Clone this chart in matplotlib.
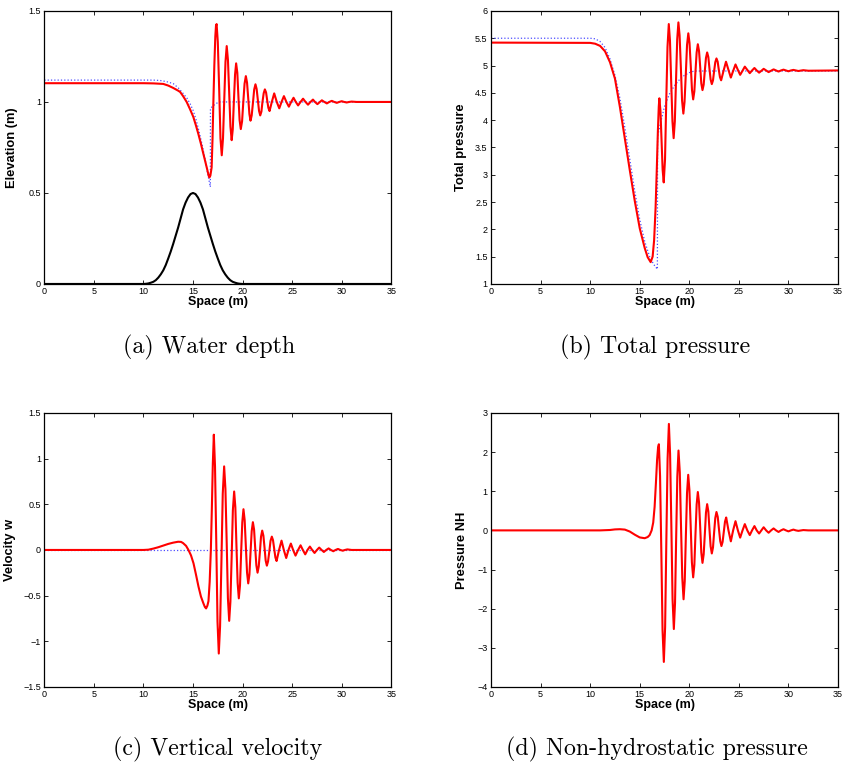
import matplotlib
matplotlib.use('Agg')
import matplotlib.pyplot as plt
from matplotlib.ticker import FuncFormatter

plt.rcParams['font.family'] = ['Liberation Sans', 'DejaVu Sans']

# (a) water depth: free surface (red), hydrostatic run (blue dots), bed bump (black)
elevation = [(0, 1.103), (5, 1.103), (10, 1.103), (11, 1.102), (12, 1.099), (12.5, 1.09),
             (13, 1.077), (13.5, 1.062), (13.7, 1.055), (14.0, 1.032), (14.36, 1.0),
             (14.7, 0.96), (15.03, 0.918), (15.3, 0.87), (15.53, 0.826), (15.8, 0.77),
             (16.04, 0.716), (16.25, 0.67), (16.45, 0.625), (16.58, 0.595), (16.65, 0.585),
             (16.75, 0.595), (16.88, 0.64), (16.97, 0.8), (17.05, 0.99), (17.15, 1.2),
             (17.25, 1.36), (17.32, 1.42), (17.38, 1.428),
             (17.5, 1.33), (17.64, 1.07), (17.77, 0.80), (17.9, 0.707),
             (18.025, 0.80), (18.15, 1.01), (18.275, 1.22), (18.4, 1.307),
             (18.525, 1.23), (18.65, 1.05), (18.775, 0.865), (18.9, 0.79),
             (19.01, 0.85), (19.12, 1.0), (19.24, 1.15), (19.35, 1.212),
             (19.47, 1.16), (19.58, 1.03), (19.70, 0.90), (19.82, 0.851),
             (19.95, 0.894), (20.07, 0.997), (20.2, 1.1), (20.33, 1.142),
             (20.45, 1.106), (20.57, 1.02), (20.69, 0.933), (20.8, 0.897),
             (20.92, 0.926), (21.05, 0.997), (21.17, 1.068), (21.3, 1.097),
             (21.42, 1.071), (21.54, 1.011), (21.66, 0.951), (21.78, 0.926),
             (21.9, 0.947), (22.0, 0.997), (22.13, 1.048), (22.25, 1.069),
             (22.37, 1.052), (22.48, 1.01), (22.6, 0.968), (22.72, 0.95),
             (22.95, 1.0), (23.19, 1.047), (23.45, 1.0), (23.7, 0.965), (23.93, 1.0),
             (24.17, 1.032), (24.42, 1.0), (24.67, 0.974), (24.9, 1.0), (25.14, 1.023),
             (25.37, 1.0), (25.6, 0.981), (25.85, 1.0), (26.1, 1.018), (26.35, 1.0),
             (26.6, 0.985), (26.85, 1.0), (27.1, 1.013), (27.3, 1.0), (27.55, 0.988),
             (27.8, 1.0), (28.0, 1.009), (28.25, 1.0), (28.5, 0.992), (28.75, 1.0),
             (29.0, 1.006), (29.25, 1.0), (29.5, 0.995), (29.75, 1.0), (30.0, 1.004),
             (30.25, 1.0), (30.5, 0.997), (30.75, 1.0), (31.0, 1.002), (31.5, 1.0), (35, 1.0)]
elevation_hyd = [(0, 1.12), (11, 1.12), (11.67, 1.118), (12.3, 1.112), (13.0, 1.101),
                 (13.5, 1.078), (14.02, 1.046), (14.4, 1.02), (14.7, 0.991), (15.0, 0.955),
                 (15.3, 0.905), (15.6, 0.84), (15.9, 0.77), (16.2, 0.69), (16.5, 0.60),
                 (16.75, 0.533), (16.76, 0.964), (17.0, 0.978), (17.3, 0.99), (17.6, 1.0),
                 (35, 1.0)]
bed = [(0, 0), (10, 0), (10.25, 0.001), (10.5, 0.003), (10.75, 0.007), (11, 0.012),
       (11.25, 0.021), (11.5, 0.035), (11.75, 0.053), (12, 0.075), (12.25, 0.104),
       (12.5, 0.14), (12.75, 0.178), (13, 0.22), (13.25, 0.265), (13.5, 0.31), (13.75, 0.36),
       (14, 0.41), (14.25, 0.447), (14.5, 0.475), (14.75, 0.494), (15, 0.5),
       (15.25, 0.494), (15.5, 0.475), (15.75, 0.447), (16, 0.41), (16.25, 0.36),
       (16.5, 0.31), (16.75, 0.265), (17, 0.22), (17.25, 0.178), (17.5, 0.14),
       (17.75, 0.104), (18, 0.075), (18.25, 0.053), (18.5, 0.035), (18.75, 0.021),
       (19, 0.012), (19.25, 0.007), (19.5, 0.003), (19.75, 0.001), (20, 0), (35, 0)]

# (b) total pressure
pressure = [(0, 5.42), (10, 5.415), (10.5, 5.40), (11, 5.36), (11.5, 5.26), (12, 5.06),
            (12.5, 4.76), (13, 4.24), (13.5, 3.66), (14, 3.08), (14.5, 2.52), (15, 2.02),
            (15.5, 1.66), (15.8, 1.49), (16.1, 1.40), (16.3, 1.50), (16.45, 1.8), (16.6, 2.4),
            (16.72, 3.1), (16.83, 3.8), (16.92, 4.25), (16.98, 4.40),
            (17.09, 4.17), (17.2, 3.63), (17.31, 3.09), (17.42, 2.86),
            (17.55, 3.28), (17.67, 4.31), (17.8, 5.34), (17.93, 5.76),
            (18.05, 5.45), (18.17, 4.715), (18.3, 3.98), (18.42, 3.67),
            (18.54, 3.98), (18.66, 4.73), (18.78, 5.48), (18.9, 5.79),
            (19.02, 5.55), (19.15, 4.955), (19.27, 4.36), (19.4, 4.12),
            (19.52, 4.335), (19.65, 4.855), (19.77, 5.375), (19.9, 5.59),
            (20.02, 5.415), (20.15, 4.985), (20.27, 4.555), (20.39, 4.38),
            (20.51, 4.53), (20.62, 4.885), (20.74, 5.24), (20.86, 5.39),
            (20.98, 5.267), (21.1, 4.97), (21.21, 4.673), (21.33, 4.55),
            (21.45, 4.651), (21.56, 4.895), (21.68, 5.139), (21.8, 5.24),
            (21.92, 5.155), (22.03, 4.95), (22.15, 4.745), (22.27, 4.66),
            (22.39, 4.729), (22.5, 4.895), (22.62, 5.061), (22.74, 5.13),
            (22.86, 5.071), (22.97, 4.93), (23.09, 4.789), (23.21, 4.73),
            (23.45, 4.9), (23.7, 5.07), (23.95, 4.92), (24.19, 4.78), (24.42, 4.9),
            (24.66, 5.02), (24.9, 4.92), (25.13, 4.83), (25.37, 4.905), (25.6, 4.98),
            (25.85, 4.92), (26.1, 4.86), (26.33, 4.91), (26.57, 4.955), (26.8, 4.91),
            (27.04, 4.87), (27.28, 4.905), (27.5, 4.94), (27.75, 4.91), (28.0, 4.88),
            (28.25, 4.905), (28.5, 4.93), (28.75, 4.91), (29.0, 4.89), (29.25, 4.91),
            (29.5, 4.925), (29.75, 4.91), (30.0, 4.895), (30.25, 4.91), (30.5, 4.92),
            (30.75, 4.91), (31.0, 4.90), (31.5, 4.915), (32.0, 4.905), (35, 4.91)]
pressure_hyd = [(0, 5.5), (10, 5.5), (10.5, 5.49), (11, 5.44), (11.5, 5.33), (12, 5.12),
                (12.5, 4.82), (13, 4.40), (13.5, 3.86), (14, 3.28), (14.5, 2.70), (15, 2.18),
                (15.5, 1.78), (16, 1.50), (16.4, 1.36), (16.78, 1.27), (16.8, 3.7),
                (17.1, 3.95), (17.5, 4.25), (18.0, 4.48), (18.5, 4.63), (19.0, 4.74),
                (19.5, 4.82), (20.0, 4.87), (20.5, 4.9), (35, 4.9)]

# (c) vertical velocity
velocity = [(0, 0), (10, 0), (10.5, 0.003), (11, 0.015), (11.5, 0.03), (12, 0.048),
            (12.5, 0.066), (13, 0.08), (13.5, 0.09), (13.8, 0.088), (14.0, 0.075),
            (14.3, 0.045), (14.54, 0.0), (14.8, -0.06), (15.05, -0.146), (15.3, -0.27),
            (15.55, -0.40), (15.8, -0.51), (16.05, -0.585), (16.2, -0.625), (16.32, -0.64),
            (16.45, -0.61), (16.56, -0.56), (16.68, -0.35), (16.8, 0.0), (16.9, 0.45),
            (17.0, 0.95), (17.1, 1.262),
            (17.22, 0.911), (17.35, 0.064), (17.47, -0.783), (17.6, -1.134),
            (17.73, -0.835), (17.87, -0.11), (18.0, 0.615), (18.14, 0.915),
            (18.27, 0.667), (18.4, 0.07), (18.52, -0.527), (18.65, -0.776),
            (18.77, -0.569), (18.9, -0.068), (19.02, 0.433), (19.15, 0.64),
            (19.27, 0.469), (19.38, 0.055), (19.5, -0.359), (19.62, -0.53),
            (19.74, -0.387), (19.85, -0.042), (19.97, 0.303), (20.09, 0.446),
            (20.21, 0.327), (20.33, 0.04), (20.45, -0.247), (20.57, -0.366),
            (20.69, -0.268), (20.8, -0.031), (20.92, 0.206), (21.04, 0.304),
            (21.16, 0.223), (21.27, 0.0275), (21.39, -0.168), (21.51, -0.249),
            (21.63, -0.181), (21.75, -0.018), (21.86, 0.145), (21.98, 0.212),
            (22.1, 0.156), (22.22, 0.02), (22.33, -0.116), (22.45, -0.172),
            (22.57, -0.125), (22.7, -0.013), (22.82, 0.1), (22.95, 0.146),
            (23.07, 0.107), (23.19, 0.0125), (23.31, -0.082), (23.43, -0.121),
            (23.68, 0), (23.93, 0.102), (24.16, 0), (24.4, -0.088), (24.63, 0), (24.87, 0.07),
            (25.1, 0), (25.34, -0.062), (25.6, 0), (25.85, 0.051), (26.08, 0), (26.32, -0.048),
            (26.55, 0), (26.79, 0.037), (27.02, 0), (27.26, -0.033), (27.5, 0), (27.73, 0.026),
            (27.97, 0), (28.2, -0.022), (28.44, 0), (28.68, 0.017), (28.91, 0), (29.15, -0.014),
            (29.38, 0), (29.62, 0.011), (29.86, 0), (30.1, -0.008), (30.33, 0), (30.57, 0.006),
            (31.0, 0), (35, 0)]
velocity_hyd = [(0, 0), (35, 0)]

# (d) non-hydrostatic pressure
pressure_nh = [(0, 0), (11, 0), (12, 0.01), (12.5, 0.025), (13, 0.03), (13.5, 0.02),
               (14, -0.03), (14.5, -0.11), (15, -0.18), (15.5, -0.2), (15.8, -0.17),
               (16.0, -0.12), (16.2, 0.0), (16.36, 0.2), (16.5, 0.6), (16.63, 1.2),
               (16.75, 1.8), (16.85, 2.12), (16.93, 2.2),
               (17.05, 1.386), (17.18, -0.58), (17.3, -2.546), (17.43, -3.36),
               (17.56, -2.47), (17.68, -0.32), (17.81, 1.83), (17.94, 2.72),
               (18.06, 1.953), (18.19, 0.1), (18.31, -1.753), (18.44, -2.52),
               (18.56, -1.852), (18.67, -0.24), (18.79, 1.372), (18.91, 2.04),
               (19.04, 1.483), (19.16, 0.14), (19.29, -1.203), (19.42, -1.76),
               (19.54, -1.294), (19.65, -0.17), (19.77, 0.954), (19.89, 1.42),
               (20.01, 1.036), (20.14, 0.11), (20.26, -0.816), (20.39, -1.2),
               (20.51, -0.881), (20.62, -0.11), (20.74, 0.661), (20.86, 0.98),
               (20.98, 0.715), (21.1, 0.075), (21.21, -0.565), (21.33, -0.83),
               (21.45, -0.61), (21.57, -0.08), (21.68, 0.45), (21.8, 0.67),
               (21.92, 0.485), (22.03, 0.04), (22.15, -0.405), (22.27, -0.59),
               (22.39, -0.435), (22.5, -0.06), (22.62, 0.315), (22.74, 0.47),
               (22.87, 0.343), (22.99, 0.035), (23.12, -0.273), (23.24, -0.4),
               (23.36, -0.293), (23.48, -0.035), (23.6, 0.223), (23.72, 0.33),
               (23.95, 0), (24.19, -0.28), (24.42, 0), (24.66, 0.235), (24.9, 0),
               (25.13, -0.185), (25.37, 0), (25.6, 0.16), (25.85, 0), (26.1, -0.12),
               (26.33, 0), (26.57, 0.11), (26.8, 0), (27.04, -0.08), (27.27, 0), (27.5, 0.08),
               (27.75, 0), (28.0, -0.06), (28.25, 0), (28.5, 0.05), (28.75, 0), (29.0, -0.04),
               (29.25, 0), (29.5, 0.03), (29.75, 0), (30.0, -0.025), (30.25, 0), (30.5, 0.02),
               (30.75, 0), (31.0, -0.012), (31.5, 0.008), (32.0, 0), (35, 0)]


def fmt(v, pos):
    return ('%g' % v).replace('-', '\u2212')


def style(ax, ylim, yticks, ylabel, label_x):
    ax.set_xlim(0, 35)
    ax.set_ylim(*ylim)
    ax.set_xticks(range(0, 36, 5))
    ax.set_yticks(yticks)
    ax.xaxis.set_major_formatter(FuncFormatter(fmt))
    ax.yaxis.set_major_formatter(FuncFormatter(fmt))
    ax.tick_params(direction='in', length=3, width=0.6, labelsize=6.5, pad=2,
                   top=True, right=True, colors='black')
    ax.tick_params(axis='y', pad=2.5)
    for s in ax.spines.values():
        s.set_linewidth(0.9)
    ax.set_xlabel('Space (m)', fontsize=9, fontweight='bold')
    ax.xaxis.set_label_coords(0.5, -0.045)
    ax.set_ylabel(ylabel, fontsize=9.3, fontweight='bold')
    ax.yaxis.set_label_coords(label_x, 0.5)


def draw(ax, pts, **kw):
    xs, ys = zip(*pts)
    ax.plot(xs, ys, solid_joinstyle='round', **kw)


fig = plt.figure(figsize=(8.44, 7.65), dpi=100)
ax_a = fig.add_axes([0.0525, 0.6288, 0.4111, 0.3569])
ax_b = fig.add_axes([0.5818, 0.6288, 0.4111, 0.3569])
ax_c = fig.add_axes([0.0525, 0.1020, 0.4111, 0.3582])
ax_d = fig.add_axes([0.5818, 0.1020, 0.4111, 0.3582])

red = '#ff0000'
blue = '#4d4dff'

draw(ax_a, elevation_hyd, ls=':', color=blue, lw=0.9)
draw(ax_a, elevation, color=red, lw=1.5)
draw(ax_a, bed, color='black', lw=1.5)
style(ax_a, (0, 1.5), [0, 0.5, 1, 1.5], 'Elevation (m)', -0.075)

draw(ax_b, pressure_hyd, ls=':', color=blue, lw=0.9)
draw(ax_b, pressure, color=red, lw=1.5)
style(ax_b, (1, 6), [1, 1.5, 2, 2.5, 3, 3.5, 4, 4.5, 5, 5.5, 6], 'Total pressure', -0.07)

draw(ax_c, velocity_hyd, ls=':', color=blue, lw=0.9)
draw(ax_c, velocity, color=red, lw=1.5)
style(ax_c, (-1.5, 1.5), [-1.5, -1, -0.5, 0, 0.5, 1, 1.5], 'Velocity w', -0.082)

draw(ax_d, pressure_nh, color=red, lw=1.5)
style(ax_d, (-4, 3), [-4, -3, -2, -1, 0, 1, 2, 3], 'Pressure NH', -0.066)

cap = dict(fontsize=17.2, family='cmr10', ha='center', va='center')
fig.text(0.2476, 1 - 347 / 765, '(a) Water depth', **cap)
fig.text(0.7760, 1 - 347 / 765, '(b) Total pressure', **cap)
fig.text(0.2580, 1 - 749 / 765, '(c) Vertical velocity', **cap)
fig.text(0.7780, 1 - 749 / 765, '(d) Non-hydrostatic pressure', **cap)

fig.savefig('out.png', dpi=100)
